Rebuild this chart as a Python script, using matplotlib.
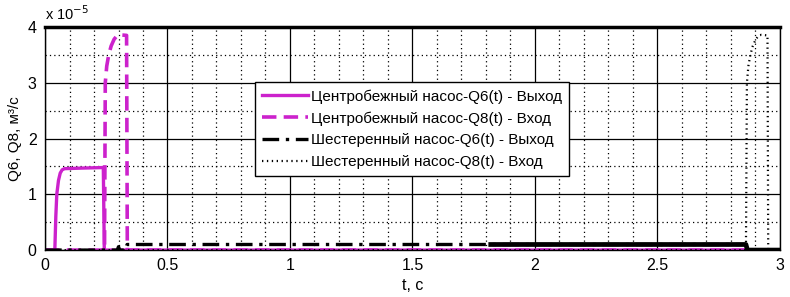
import numpy as np
import matplotlib
matplotlib.use("Agg")
import matplotlib.pyplot as plt
from matplotlib.ticker import MultipleLocator, FuncFormatter

plt.rcParams['font.family'] = ['Liberation Sans', 'DejaVu Sans']

# Centrifugal pump, Q6 (outlet), m^3/s
cf_q6_t = [0.0, 0.040, 0.044, 0.048, 0.055, 0.062, 0.070, 0.080, 0.150, 0.238, 0.242, 0.30, 3.0]
cf_q6_v = [0.0, 0.0, 0.60, 1.00, 1.25, 1.38, 1.44, 1.46, 1.47, 1.48, 0.0, 0.0, 0.0]

# Centrifugal pump, Q8 (inlet)
cf_q8_t = [0.0, 0.243, 0.246, 0.252, 0.260, 0.270, 0.282, 0.295, 0.305, 0.333, 0.336, 0.40, 3.0]
cf_q8_v = [0.0, 0.0, 3.00, 3.30, 3.50, 3.66, 3.78, 3.85, 3.86, 3.85, 0.0, 0.0, 0.0]

# Gear pump, Q6 (outlet)
gp_q6_t = [0.0, 0.295, 0.300, 0.305, 0.330, 0.335, 1.0, 1.82, 2.2, 2.6, 2.862, 2.868, 3.0]
gp_q6_v = [0.0, 0.0, 0.06, 0.0, 0.0, 0.10, 0.10, 0.10, 0.10, 0.10, 0.10, 0.0, 0.0]

# Gear pump, Q8 (inlet)
gp_q8_t = [0.0, 2.862, 2.866, 2.872, 2.880, 2.890, 2.902, 2.915, 2.925, 2.950, 2.953, 3.0]
gp_q8_v = [0.0, 0.0, 3.00, 3.30, 3.50, 3.66, 3.78, 3.85, 3.86, 3.85, 0.0, 0.0]

noisy_from = 1.82  # gear pump outlet looks solid after this time

scale = 1e-5
mag = '#cc22cc'

fig = plt.figure(figsize=(7.9, 2.97), dpi=100)
ax = fig.add_axes([0.057, 0.158, 0.93, 0.751])

ax.plot(cf_q6_t, np.array(cf_q6_v) * scale, color=mag, lw=2.4,
        label='Центробежный насос-Q6(t) - Выход')
ax.plot(cf_q8_t, np.array(cf_q8_v) * scale, color=mag, lw=2.6,
        dashes=(4, 2), label='Центробежный насос-Q8(t) - Вход')
ax.plot(gp_q6_t, np.array(gp_q6_v) * scale, color='black', lw=2.4,
        dashes=(5, 2, 1, 2), label='Шестеренный насос-Q6(t) - Выход')
t6 = np.array(gp_q6_t)
m = t6 >= noisy_from
ax.plot(t6[m], np.array(gp_q6_v)[m] * scale, color='black', lw=3.4)
ax.plot(gp_q8_t, np.array(gp_q8_v) * scale, color='black', lw=1.6,
        ls=(0, (0.6, 1.6)), label='Шестеренный насос-Q8(t) - Вход')

ax.set_xlim(0, 3)
ax.set_ylim(0, 4e-5)
ax.xaxis.set_major_locator(MultipleLocator(0.5))
ax.xaxis.set_minor_locator(MultipleLocator(0.1))
ax.yaxis.set_major_locator(MultipleLocator(1e-5))
ax.yaxis.set_minor_locator(MultipleLocator(0.5e-5))
ax.xaxis.set_major_formatter(FuncFormatter(lambda v, p: f'{v:g}'))
ax.yaxis.set_major_formatter(FuncFormatter(lambda v, p: f'{v / scale:g}'))
ax.grid(True, which='major', color='black', lw=0.9, ls='-')
ax.grid(True, which='minor', color='black', lw=0.9, ls=(0, (1, 2.5)))
ax.set_axisbelow(True)
ax.tick_params(which='both', length=0, labelsize=11.5, pad=6)
for s in ax.spines.values():
    s.set_linewidth(1.0)
ax.spines['top'].set_linewidth(2.5)

ax.text(0.0, 1.02, r'x 10$^{-5}$', transform=ax.transAxes, fontsize=10.5,
        ha='left', va='bottom')
ax.set_xlabel('t, с', fontsize=11.5, labelpad=3)
ax.set_ylabel('Q6, Q8, м³/с', fontsize=11, labelpad=4)

leg = ax.legend(loc='upper left', bbox_to_anchor=(0.286, 0.752), fontsize=11,
                fancybox=False, edgecolor='black', framealpha=1,
                handlelength=3.0, handletextpad=0.2, borderpad=0.45,
                labelspacing=0.5, borderaxespad=0)
leg.get_frame().set_linewidth(1.0)

fig.savefig('out.png', dpi=100)
